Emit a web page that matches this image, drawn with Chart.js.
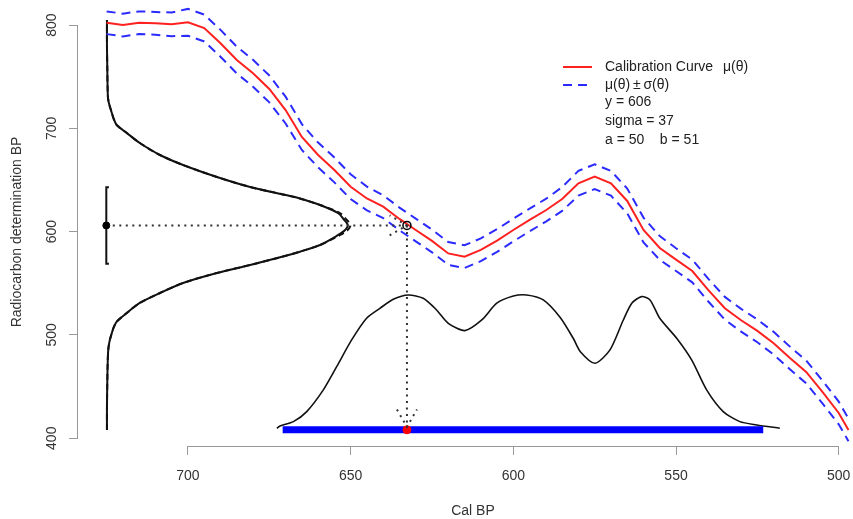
<!DOCTYPE html>
<html>
<head>
<meta charset="utf-8">
<script src="https://cdn.jsdelivr.net/npm/chart.js@4/dist/chart.umd.min.js"></script>
<style>
  html, body { margin: 0; padding: 0; background: #fff; overflow: hidden; }
  #wrap { width: 853px; height: 519px; overflow: hidden; }
</style>
</head>
<body>
<div id="wrap"><canvas id="chart" width="900" height="519"></canvas></div>
<script>
// calibration curve, 5-year grid
const calYears = [725, 720, 715, 710, 705, 700, 695, 690, 685, 680, 675, 670, 665, 660, 655, 650, 645, 640, 635, 630,
  625, 620, 615, 610, 605, 600, 595, 590, 585, 580, 575, 570, 565, 560, 555, 550, 545, 540, 535, 530,
  525, 520, 515, 510, 505, 500, 497];
const calMu = [802.2, 800, 802.2, 801.6, 800.7, 802.6, 797.1, 782.3, 766.1, 753.3, 738.1, 717.7, 691.6, 674.2, 659.7, 643.5, 632.1, 624.2, 612.3, 601.6,
  591, 578.9, 575.8, 582.4, 591.4, 601.6, 611.3, 620.7, 631.6, 646.8, 653.2, 646.8, 629.7, 601.6, 584.2, 572.9, 561.9, 543.1, 525.8, 514.2,
  503.9, 492, 477.7, 464.2, 444.8, 424.5, 408.1];
const calSigma = [11, 11, 11, 11, 11.5, 13, 13, 13, 13, 13, 13, 13, 12.5, 12, 12, 12, 11.5, 11, 11, 11,
  11, 11, 11, 11, 11, 11, 11, 11, 11.5, 12, 12, 12, 12, 12, 11.5, 11, 11, 11, 11, 11,
  11, 11, 11, 11, 11, 11, 11];

// likelihood of the determination, drawn sideways on the left
const likY = [408.1, 430, 453.5, 470, 485.5, 494, 501.9, 507.5, 512.9, 521.3, 531, 540.6, 550.3, 560, 567.7, 575.9, 580.6, 587.1, 596.8, 601, 603.5, 606,
  608.5, 611, 617.8, 625.8, 632.1, 636, 643.2, 652.9, 664.5, 674.2, 685.8, 695.5, 703.2, 709, 714.8, 727.4, 740, 759.6, 780, 804.8];
const likX = [724.9, 724.9, 724.8, 724.7, 724.5, 724.1, 723.4, 722.8, 721.9, 718.8, 714.8, 708.6, 701.5, 691.1, 680.9, 670.8, 665.6, 659.4, 653.8, 651.9, 651.2, 650.9,
  651.2, 651.9, 653.8, 659.4, 665.6, 670.8, 680.9, 691.1, 701.5, 708.6, 714.8, 718.8, 721.9, 722.8, 723.4, 724.5, 724.7, 724.8, 724.9, 724.9];
const likXNormal = [724.9, 724.9, 724.8, 724.7, 724.5, 724.1, 723.4, 722.8, 721.9, 718.8, 714.8, 708.6, 701.5, 691.1, 680.9, 670.8, 665.6, 659.4, 653.2, 651.1, 650.4, 650.1,
  650.4, 651.1, 653.2, 659.4, 665.6, 670.8, 680.9, 691.1, 701.5, 708.6, 714.8, 718.8, 721.9, 722.8, 723.4, 724.5, 724.7, 724.8, 724.9, 724.9];

// posterior density along the bottom
const postX = [672.7, 671.7, 667.6, 663.5, 658.4, 654.3, 649.7, 645.1, 641.0, 636.9, 632.3, 627.7, 623.6, 620.0, 614.9, 609.7, 605.1, 600.0, 595.9, 590.8,
  585.6, 581.6, 579.4, 574.9, 570.3, 566.2, 563.6, 560.6, 558.0, 555.0, 549.8, 545.2, 540.6, 535.5, 530.4, 525.2, 518.1];
const postY = [409.7, 411.9, 416.1, 425.8, 446.8, 469.3, 495.2, 516.2, 525.8, 534.5, 538.7, 535.5, 524.2, 511.3, 504.2, 514.5, 530.7, 537.7, 538.7, 533.9,
  516.9, 496.8, 483.8, 472.6, 485.5, 514.5, 530.7, 537.1, 533.9, 516.1, 496.8, 475.8, 446.8, 425.8, 416.1, 412.9, 409.7];

const hpdRange = [670.9, 523.2];
const hpdLevel = 408.2;
const obsX = 725.1;
const obsY = 606;
const obsSigma = 37;
const thetaHat = 632.7;
const arrowEndY = 411;

const xTicks = [700, 650, 600, 550, 500];
const yTicks = [400, 500, 600, 700, 800];
const legendLines = ['Calibration Curve\u2002\u2009\u03bc(\u03b8)', '\u03bc(\u03b8)\u2009\u00b1\u2009\u03c3(\u03b8)', 'y = 606', 'sigma = 37', 'a = 50    b = 51'];

const FONT = '"Liberation Sans", Arial, sans-serif';
const pts = (xs, ys) => xs.map((x, i) => ({ x: x, y: ys[i] }));
const dotted = [2, 4.5];

function arrowHead(ctx, tip, angle) {
    const len = 20, spread = Math.PI / 6;
    ctx.beginPath();
    ctx.moveTo(tip.x - len * Math.cos(angle - spread), tip.y - len * Math.sin(angle - spread));
    ctx.lineTo(tip.x, tip.y);
    ctx.lineTo(tip.x - len * Math.cos(angle + spread), tip.y - len * Math.sin(angle + spread));
    ctx.stroke();
}

const extras = {
    id: 'extras',
    afterDraw(chart) {
        const ctx = chart.ctx;
        const xs = chart.scales.x, ys = chart.scales.y;
        const area = chart.chartArea;
        ctx.save();

        // R style axis lines, only from first to last tick
        ctx.strokeStyle = '#999';
        ctx.lineWidth = 1;
        ctx.beginPath();
        ctx.moveTo(xs.getPixelForValue(xTicks[0]), area.bottom + 0.5);
        ctx.lineTo(xs.getPixelForValue(xTicks[xTicks.length - 1]), area.bottom + 0.5);
        ctx.moveTo(area.left - 0.5, ys.getPixelForValue(yTicks[0]));
        ctx.lineTo(area.left - 0.5, ys.getPixelForValue(yTicks[yTicks.length - 1]));
        ctx.stroke();

        // rotated y tick labels
        ctx.fillStyle = '#333';
        ctx.font = '14px ' + FONT;
        ctx.textAlign = 'center';
        ctx.textBaseline = 'middle';
        yTicks.forEach(v => {
            ctx.save();
            ctx.translate(52, ys.getPixelForValue(v));
            ctx.rotate(-Math.PI / 2);
            ctx.fillText(String(v), 0, 0);
            ctx.restore();
        });

        // arrow heads on the dotted guides
        ctx.strokeStyle = '#333';
        ctx.lineWidth = 2;
        ctx.setLineDash(dotted);
        const px = xs.getPixelForValue(thetaHat);
        arrowHead(ctx, { x: px, y: ys.getPixelForValue(obsY) }, 0);
        arrowHead(ctx, { x: px, y: ys.getPixelForValue(arrowEndY) }, Math.PI / 2);
        ctx.setLineDash([]);

        // legend
        const lx = 563, tx = 605, rows = [67, 85, 102, 121, 140];
        ctx.lineWidth = 2;
        ctx.strokeStyle = '#ff2020';
        ctx.beginPath(); ctx.moveTo(lx, rows[0]); ctx.lineTo(lx + 29, rows[0]); ctx.stroke();
        ctx.strokeStyle = '#2b2bff';
        ctx.setLineDash([9, 6]);
        ctx.beginPath(); ctx.moveTo(lx, rows[1]); ctx.lineTo(lx + 29, rows[1]); ctx.stroke();
        ctx.setLineDash([]);
        ctx.fillStyle = '#222';
        ctx.textAlign = 'left';
        legendLines.forEach((t, i) => ctx.fillText(t, tx, rows[i]));
        ctx.restore();
    }
};

const lineDefaults = { showLine: true, pointRadius: 0, fill: false };

new Chart(document.getElementById('chart'), {
    type: 'scatter',
    data: {
        datasets: [
            { ...lineDefaults, data: pts(calYears, calMu), borderColor: '#ff2020', borderWidth: 2, order: 3 },
            { ...lineDefaults, data: pts(calYears, calMu.map((m, i) => m + calSigma[i])), borderColor: '#2b2bff', borderWidth: 2, borderDash: [9, 6], clip: false, order: 4 },
            { ...lineDefaults, data: pts(calYears, calMu.map((m, i) => m - calSigma[i])), borderColor: '#2b2bff', borderWidth: 2, borderDash: [9, 6], order: 4 },
            { ...lineDefaults, data: pts(likX, likY), borderColor: '#111', borderWidth: 2, tension: 0.3, order: 5 },
            { ...lineDefaults, data: pts(likXNormal, likY), borderColor: '#111', borderWidth: 2, borderDash: [6, 4], tension: 0.3, order: 6 },
            { ...lineDefaults, data: pts(postX, postY), borderColor: '#111', borderWidth: 1.6, tension: 0.25, order: 7 },
            { ...lineDefaults, data: pts(hpdRange, [hpdLevel, hpdLevel]), borderColor: '#0000ff', borderWidth: 7, borderCapStyle: 'butt', order: 2 },
            { ...lineDefaults, data: [{ x: obsX - 0.8, y: obsY + obsSigma }, { x: obsX, y: obsY + obsSigma }, { x: obsX, y: obsY - obsSigma }, { x: obsX - 0.8, y: obsY - obsSigma }],
              borderColor: '#111', borderWidth: 2, order: 2 },
            { ...lineDefaults, data: [{ x: obsX, y: obsY }, { x: thetaHat, y: obsY }], borderColor: '#333', borderWidth: 2, borderDash: dotted, order: 2 },
            { ...lineDefaults, data: [{ x: thetaHat, y: obsY }, { x: thetaHat, y: arrowEndY }], borderColor: '#333', borderWidth: 2, borderDash: dotted, order: 2 },
            { data: [{ x: obsX, y: obsY }], pointRadius: 3.5, backgroundColor: '#000', borderColor: '#000', order: 1 },
            { data: [{ x: thetaHat, y: obsY }], pointRadius: 4, backgroundColor: 'rgba(0,0,0,0)', borderColor: '#000', borderWidth: 1.5, order: 1 },
            { data: [{ x: thetaHat, y: hpdLevel }], pointRadius: 4, backgroundColor: '#ff0000', borderColor: '#ff0000', order: 0 }
        ]
    },
    options: {
        responsive: false,
        animation: false,
        devicePixelRatio: 1,
        layout: { padding: { top: 18, right: 32, left: 0, bottom: 0 } },
        plugins: { legend: { display: false }, tooltip: { enabled: false } },
        scales: {
            x: {
                type: 'linear',
                reverse: true,
                min: 491,
                max: 733.8,
                afterFit(scale) { scale.height = 73; },
                afterBuildTicks(scale) { scale.ticks = xTicks.map(v => ({ value: v })); },
                border: { display: false },
                grid: { drawOnChartArea: false, drawTicks: true, tickLength: 9, color: '#999' },
                ticks: { color: '#333', padding: 13, font: { size: 14, family: FONT } },
                title: { display: true, text: 'Cal BP', color: '#333', font: { size: 14, family: FONT }, padding: { top: 0, bottom: -1 } }
            },
            y: {
                type: 'linear',
                min: 392.5,
                max: 806.8,
                afterFit(scale) { scale.width = 78; },
                afterBuildTicks(scale) { scale.ticks = yTicks.map(v => ({ value: v })); },
                border: { display: false },
                grid: { drawOnChartArea: false, drawTicks: true, tickLength: 9, color: '#999' },
                ticks: { display: false },
                title: { display: true, text: 'Radiocarbon determination BP', color: '#333', font: { size: 14, family: FONT }, padding: { top: 9, bottom: 0 } }
            }
        }
    },
    plugins: [extras]
});
</script>
</body>
</html>
